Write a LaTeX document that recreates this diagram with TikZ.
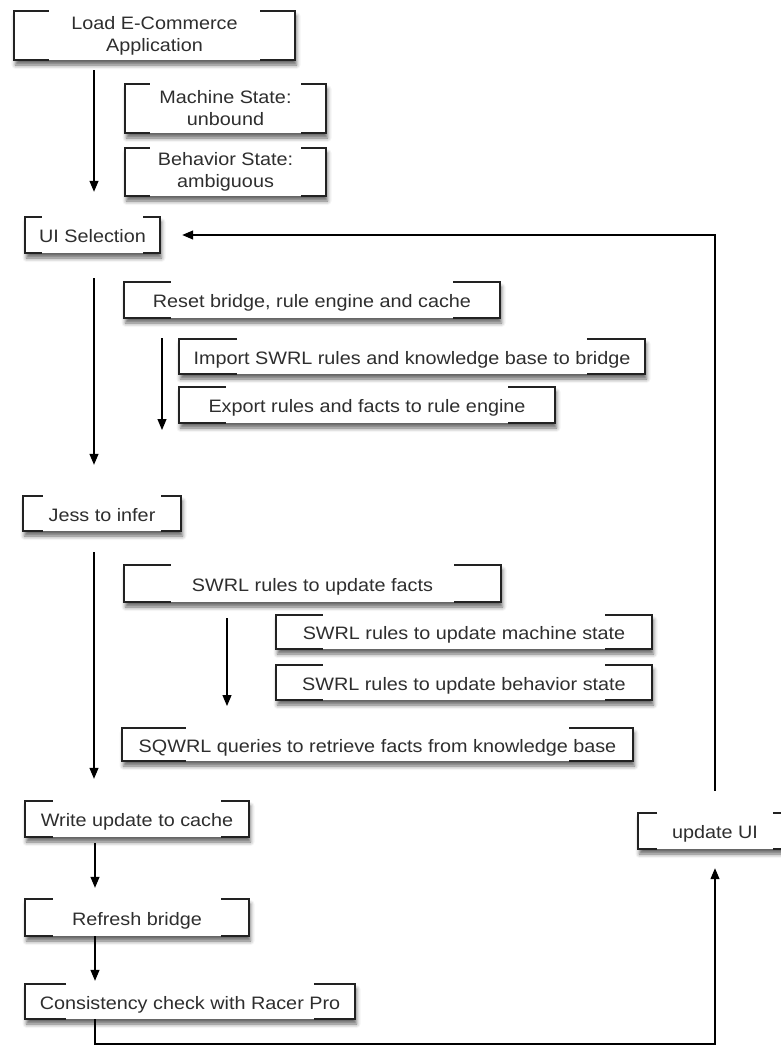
\documentclass[tikz,border=0pt]{standalone}
\usepackage{fontspec}
\setmainfont{Liberation Sans}[FakeStretch=1.1]
\usetikzlibrary{arrows.meta,shadows.blur,calc}
\definecolor{ink}{HTML}{2E2E2E}
\definecolor{rim}{HTML}{222222}
\tikzset{
  box/.style={fill=white, inner sep=0pt, align=center, text=ink,
    font=\fontsize{18}{22}\selectfont,
    blur shadow={shadow xshift=1.5pt, shadow yshift=-5pt,
      shadow blur radius=4pt, shadow opacity=60}},
  oneline/.style={text height=15.6pt, text depth=0pt},
  twoline/.style={},
  rimline/.style={draw=rim, line width=1.5pt},
  arr/.style={draw=black, line width=1.2pt, -{Triangle[length=11pt,width=9pt]}},
}
% \boxat{style}{name}{x1}{y1}{x2}{y2}{text}: box spanning the given corners
\newcommand\boxat[7]{%
  \node[box,#1,minimum width={(#5-#3)*1pt},minimum height={(#6-#4)*1pt}]
    (#2) at ({(#3+#5)/2},{(#4+#6)/2}) {#7};}
\begin{document}
\begin{tikzpicture}[x=1pt,y=-1pt]
\useasboundingbox (0,0) rectangle (780,1045);

% process steps
\boxat{twoline}{load}{14}{11}{295}{60}{Load E-Commerce\\Application}
\boxat{twoline}{ms}{125}{84}{326}{133}{Machine State:\\unbound}
\boxat{twoline}{bs}{125}{148}{326}{196}{Behavior State:\\ambiguous}
\boxat{oneline}{ui}{25}{217}{160}{253}{UI Selection}
\boxat{oneline}{reset}{124}{282}{500}{318}{Reset bridge, rule engine and cache}
\boxat{oneline}{imp}{179}{339}{645}{374}{Import SWRL rules and knowledge base to bridge}
\boxat{oneline}{exp}{179}{387}{555}{423}{Export rules and facts to rule engine}
\boxat{oneline}{jess}{23}{496}{181}{531}{Jess to infer}
\boxat{oneline}{facts}{124}{565}{501}{602}{SWRL rules to update facts}
\boxat{oneline}{mach}{276}{615}{652}{649}{SWRL rules to update machine state}
\boxat{oneline}{behav}{276}{665}{652}{700}{SWRL rules to update behavior state}
\boxat{oneline}{sq}{122}{728}{633}{761}{SQWRL queries to retrieve facts from knowledge base}
\boxat{oneline}{write}{25}{801}{249}{837}{Write update to cache}
\boxat{oneline}{refresh}{25}{899}{249}{936}{Refresh bridge}
\boxat{oneline}{cons}{25}{984}{355}{1019}{Consistency check with Racer Pro}
\boxat{oneline}{upd}{638}{813}{792}{849}{update UI}

% bracket-style borders: full sides, short stubs at the corners
\foreach \b in {load,ms,bs,ui,reset,imp,exp,jess,facts,mach,behav,sq,write,refresh,cons,upd}{
  \draw[rimline] let \p1=(\b.north west), \p2=(\b.south east),
      \n1={0.125*(\x2-\x1)} in
    (\x1+\n1*1pt,\y1) -- (\x1,\y1) -- (\x1,\y2) -- (\x1+\n1*1pt,\y2)
    (\x2-\n1*1pt,\y1) -- (\x2,\y1) -- (\x2,\y2) -- (\x2-\n1*1pt,\y2);
}

% guide coordinates for the connectors
\coordinate (s1) at (94,0);
\coordinate (s2) at (95,0);
\coordinate (rx) at (715,0);
\coordinate (t3) at (162,430);
\coordinate (t5) at (227,706);
\coordinate (bot) at (95,1044);

% connectors
\draw[arr, shorten <=10pt, shorten >=25pt] (load.south -| s1) -- (ui.north -| s1);
\draw[arr, shorten <=25pt, shorten >=31pt] (ui.south -| s1) -- (jess.north -| s1);
\draw[arr, shorten <=20pt] (reset.south -| t3) -- (t3);
\draw[arr, shorten <=21pt, shorten >=22pt] (jess.south -| s1) -- (write.north -| s1);
\draw[arr, shorten <=16pt] (facts.south -| t5) -- (t5);
\draw[arr, shorten <=6pt, shorten >=11pt] (write.south -| s2) -- (refresh.north -| s2);
\draw[arr, shorten >=3pt] (refresh.south -| s2) -- (cons.north -| s2);
\draw[arr, shorten >=19pt] (cons.south -| s2) -- (bot) -- (bot -| rx) -- (upd.south -| rx);
\draw[arr, shorten <=22pt, shorten >=22pt] (upd.north -| rx) |- (ui.east);
\end{tikzpicture}
\end{document}
